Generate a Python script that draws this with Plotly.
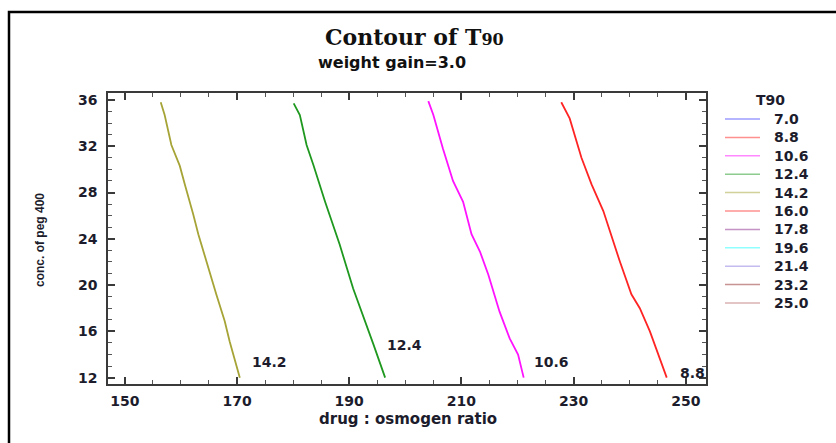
import plotly.graph_objects as go

# T90 contour levels and the colour assigned to each
levels = [7.0, 8.8, 10.6, 12.4, 14.2, 16.0, 17.8, 19.6, 21.4, 23.2, 25.0]
level_colors = ['#3a3aff', '#ff2424', '#ff12ff', '#1f981f', '#a6a436', '#ff2424',
                '#8c2a8c', '#22ffff', '#8a7ae2', '#922a2a', '#ba6666']

# Traced iso-lines: drug:osmogen ratio (x) against conc. of peg 400 (y)
iso_88_x = [227.8, 229.3, 231.4, 233.2, 235.3, 236.8, 238.2, 240.3, 241.8, 243.6, 245.1, 246.6]
iso_88_y = [35.8, 34.4, 31.0, 28.7, 26.4, 24.1, 22.1, 19.2, 18.0, 16.0, 14.0, 12.0]

iso_106_x = [204.1, 205.0, 206.7, 208.5, 210.3, 211.8, 213.3, 214.8, 216.8, 218.6, 220.1, 221.1]
iso_106_y = [35.9, 34.7, 31.8, 29.0, 27.2, 24.4, 22.9, 20.9, 17.7, 15.4, 14.0, 12.0]

iso_124_x = [180.1, 181.2, 182.4, 183.6, 185.7, 188.3, 190.7, 193.1, 194.3, 196.4]
iso_124_y = [35.7, 34.7, 32.1, 30.4, 27.2, 23.5, 19.7, 16.6, 14.9, 12.0]

iso_142_x = [156.4, 157.1, 158.3, 159.8, 160.7, 161.6, 162.2, 163.1, 164.0, 165.2, 166.3, 167.8, 168.7, 170.5]
iso_142_y = [35.8, 34.7, 32.1, 30.3, 28.7, 27.2, 26.1, 24.4, 22.9, 20.9, 19.2, 16.9, 15.1, 12.0]

iso_levels = [8.8, 10.6, 12.4, 14.2]
iso_xs = [iso_88_x, iso_106_x, iso_124_x, iso_142_x]
iso_ys = [iso_88_y, iso_106_y, iso_124_y, iso_142_y]

# Axis ticks
x_ticks = [150, 170, 190, 210, 230, 250]
y_ticks = [12, 16, 20, 24, 28, 32, 36]

# Text
title_main = "Contour of T<span style='font-size:16px'>90</span>"
title_sub = "weight gain=3.0"
x_title = "drug : osmogen ratio"
y_title = "conc. of peg 400"
legend_title = "T90"

# Canvas / plot-area geometry (pixels)
W, H = 836, 443
L, R, T, B = 108, 130, 93, 59
PW, PH = W - L - R, H - T - B


def px_x(px):
    return (px - L) / PW


def px_y(py):
    return (H - B - py) / PH


SANS = "DejaVu Sans"
INK = "#1c1c2c"
LBL = dict(family=SANS, size=14, color=INK, weight="bold")

fig = go.Figure()

# Contour lines, with value labels offset from their lower ends
label_shift = {8.8: (11, 5), 10.6: (8, 16), 12.4: (0, 33), 14.2: (10, 16)}
annotations = []
for lev, xs, ys in zip(iso_levels, iso_xs, iso_ys):
    col = level_colors[levels.index(lev)]
    fig.add_trace(go.Scatter(x=xs, y=ys, mode="lines", showlegend=False,
                             line=dict(color=col, width=1.8), hoverinfo="skip"))
    dx, dy = label_shift[lev]
    annotations.append(dict(x=xs[-1], y=ys[-1], xref="x", yref="y", text=f"{lev:.1f}",
                            showarrow=False, xanchor="left", yanchor="middle",
                            xshift=dx, yshift=dy, font=LBL))

# Titles
annotations += [
    dict(x=px_x(414), y=px_y(37), xref="paper", yref="paper", text=title_main, showarrow=False,
         xanchor="center", yanchor="middle",
         font=dict(family="DejaVu Serif", size=22, color="#111", weight="bold")),
    dict(x=px_x(392), y=px_y(63), xref="paper", yref="paper", text=title_sub, showarrow=False,
         xanchor="center", yanchor="middle",
         font=dict(family=SANS, size=16, color="#111", weight="bold")),
    dict(x=px_x(408), y=px_y(419), xref="paper", yref="paper", text=x_title, showarrow=False,
         xanchor="center", yanchor="middle",
         font=dict(family=SANS, size=15, color=INK, weight="bold")),
    dict(x=px_x(40), y=px_y(240), xref="paper", yref="paper", text=y_title, showarrow=False,
         textangle=-90, xanchor="center", yanchor="middle",
         font=dict(family="Liberation Sans", size=12, color=INK, weight="bold")),
    dict(x=px_x(770), y=px_y(100), xref="paper", yref="paper", text=legend_title, showarrow=False,
         xanchor="center", yanchor="middle", font=LBL),
]

# Level key on the right
shapes = []
for i, (lev, col) in enumerate(zip(levels, level_colors)):
    yy = px_y(119 + i * 18.4)
    shapes.append(dict(type="line", xref="paper", yref="paper", x0=px_x(725), x1=px_x(760),
                       y0=yy, y1=yy, line=dict(color=col, width=1.5), opacity=0.5))
    annotations.append(dict(x=px_x(772), y=yy, xref="paper", yref="paper", text=f"{lev:.1f}",
                            showarrow=False, xanchor="left", yanchor="middle", font=LBL))

# Outer frame
shapes.append(dict(type="rect", xref="paper", yref="paper", x0=px_x(9), y0=px_y(448),
                   x1=px_x(842), y1=px_y(12), line=dict(color="#000", width=2.5)))

axis_common = dict(
    showgrid=False, zeroline=False, showline=True, linecolor="#3a3a3a", linewidth=1.5,
    mirror="ticks", ticks="inside", ticklen=7, tickwidth=1.5, tickcolor="#3a3a3a",
    tickfont=LBL,
)

fig.update_layout(
    width=W, height=H, margin=dict(l=L, r=R, t=T, b=B),
    paper_bgcolor="white", plot_bgcolor="white", showlegend=False,
    xaxis=dict(range=[147.0, 253.6], tickmode="array", tickvals=x_ticks,
               ticktext=[str(v) for v in x_ticks], ticklabelstandoff=3,
               minor=dict(tick0=150, dtick=5, ticks="inside", ticklen=4, tickwidth=1.2,
                          tickcolor="#555"),
               **axis_common),
    yaxis=dict(range=[11.45, 36.6], tickmode="array", tickvals=y_ticks,
               ticktext=[str(v) for v in y_ticks], ticklabelstandoff=6,
               minor=dict(tick0=12, dtick=1, ticks="inside", ticklen=4, tickwidth=1.2,
                          tickcolor="#555"),
               **axis_common),
    annotations=annotations, shapes=shapes,
)

fig.write_html("out.html")
